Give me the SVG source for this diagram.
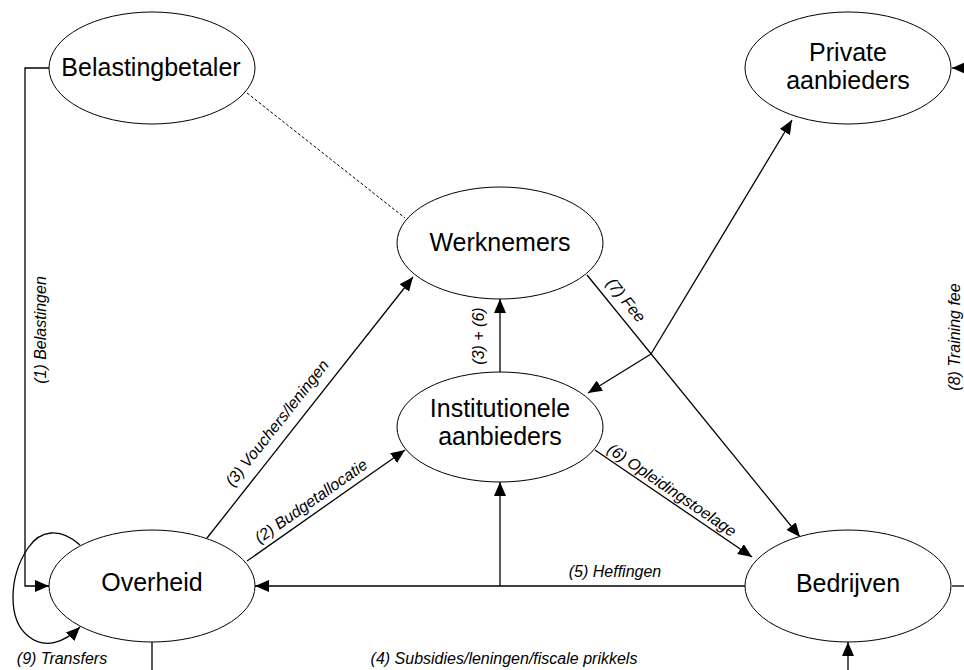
<svg xmlns="http://www.w3.org/2000/svg" width="964" height="670" viewBox="0 0 964 670">
<style>
.node ellipse{fill:#fff;stroke:#000;stroke-width:1}
.node text{font-family:"Liberation Sans",Arial,sans-serif;font-size:25px;fill:#000;text-anchor:middle}
.conn path,.conn line{fill:none;stroke:#000;stroke-width:1.3}
.lbl{font-family:"Liberation Sans",Arial,sans-serif;font-size:16px;font-style:italic;fill:#000;text-anchor:middle}
</style>
<defs>
<marker id="ah" markerUnits="userSpaceOnUse" markerWidth="14" markerHeight="12" refX="14" refY="6" orient="auto">
<path d="M0,0 L14,6 L0,12 z" fill="#000"/>
</marker>
</defs>
<rect width="964" height="670" fill="#fff"/>
<g id="connectors" class="conn">
<path d="M49,68 H25 V586 H49" marker-end="url(#ah)"/>
<path d="M247,93 L405,218" style="stroke-dasharray:3,2;stroke-width:1"/>
<path d="M207,538 L413,277" marker-end="url(#ah)"/>
<path d="M247,561 L405,450" marker-end="url(#ah)"/>
<path d="M500,372 L500,299" marker-end="url(#ah)"/>
<path d="M587,275 L800,537" marker-end="url(#ah)"/>
<path d="M651,354 L792,120" marker-end="url(#ah)"/>
<path d="M651,354 L588,393" marker-end="url(#ah)"/>
<path d="M595,450 L752,557" marker-end="url(#ah)"/>
<path d="M745,586 L255,586" marker-end="url(#ah)"/>
<path d="M500,586 L500,482" marker-end="url(#ah)"/>
<path d="M952,586 H970"/>
<path d="M980,68 L952,68" marker-end="url(#ah)"/>
<path d="M80,545 C60,527 40,530 28,548 C8,578 8,620 28,636 C45,650 65,642 80,627" marker-end="url(#ah)"/>
<path d="M152,642 V672"/>
<path d="M848,680 V642" marker-end="url(#ah)"/>
</g>
<g id="labels">
<text class="lbl" transform="translate(40,330) rotate(-90)" y="5.5">(1) Belastingen</text>
<text class="lbl" transform="translate(277,423) rotate(-51.7)" y="5.5">(3) Vouchers/leningen</text>
<text class="lbl" transform="translate(311,501) rotate(-35.1)" y="5.5">(2) Budgetallocatie</text>
<text class="lbl" transform="translate(478,336) rotate(-90)" y="5.5">(3) + (6)</text>
<text class="lbl" transform="translate(626,300) rotate(50.9)" y="5.5">(7) Fee</text>
<text class="lbl" transform="translate(672,490) rotate(34.3)" y="5.5">(6) Opleidingstoelage</text>
<text class="lbl" x="615" y="577">(5) Heffingen</text>
<text class="lbl" transform="translate(954.5,337) rotate(-90)" y="5.5">(8) Training fee</text>
<text class="lbl" x="62" y="664">(9) Transfers</text>
<text class="lbl" x="504" y="664">(4) Subsidies/leningen/fiscale prikkels</text>
</g>
<g id="belastingbetaler" class="node">
<ellipse cx="152" cy="68" rx="103" ry="56"/>
<text x="151" y="76">Belastingbetaler</text>
</g>
<g id="private" class="node">
<ellipse cx="848" cy="68" rx="103" ry="56"/>
<text x="848" y="61">Private</text>
<text x="848" y="89">aanbieders</text>
</g>
<g id="werknemers" class="node">
<ellipse cx="500" cy="243" rx="103" ry="56"/>
<text x="500" y="251">Werknemers</text>
</g>
<g id="institutionele" class="node">
<ellipse cx="500" cy="427" rx="103" ry="55"/>
<text x="500" y="417">Institutionele</text>
<text x="500" y="445">aanbieders</text>
</g>
<g id="overheid" class="node">
<ellipse cx="152" cy="586" rx="103" ry="56"/>
<text x="152" y="591">Overheid</text>
</g>
<g id="bedrijven" class="node">
<ellipse cx="848" cy="586" rx="103" ry="56"/>
<text x="848" y="592">Bedrijven</text>
</g>
</svg>
